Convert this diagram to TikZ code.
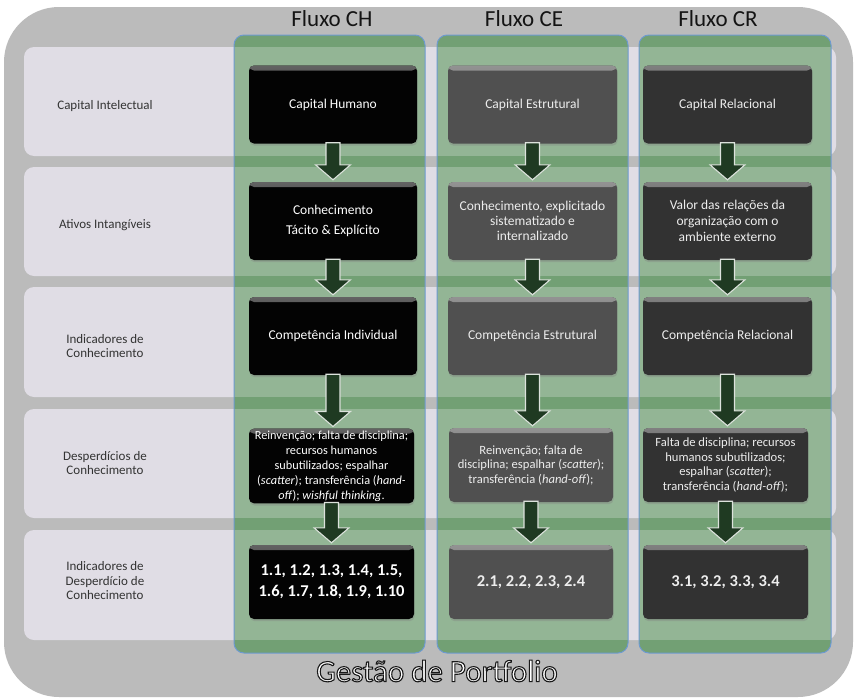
\documentclass[tikz,border=0pt]{standalone}
\usepackage{fontspec}
\setmainfont{Carlito}
\usetikzlibrary{calc,shadows}
\definecolor{outergray}{HTML}{BBBBBB}
\definecolor{rowlav}{HTML}{E0DDE5}
\definecolor{colgreen}{HTML}{93B595}
\definecolor{colgreendk}{HTML}{72A074}
\definecolor{colborder}{HTML}{6D9AD0}
\definecolor{arrowfill}{HTML}{1F3A22}
\definecolor{arrowline}{HTML}{DCE2DC}
\definecolor{boxCH}{HTML}{030303}
\definecolor{boxCE}{HTML}{505050}
\definecolor{boxCR}{HTML}{323232}
\definecolor{boxtextlt}{HTML}{EDEDED}
\definecolor{labeltext}{HTML}{333333}
\definecolor{headertext}{HTML}{141414}
\tikzset{
  boxbase/.style={rounded corners=5pt, inner sep=2pt, align=center,
    minimum width=168pt, minimum height=78pt,
    drop shadow={opacity=0.35, shadow xshift=0.6pt, shadow yshift=-2.2pt},
    font=\fontsize{13.5}{16}\selectfont},
  gloss/.style={fill=#1, path picture={\shade[top color=#1!62!white, bottom color=#1]
    (path picture bounding box.north west) rectangle ([yshift=-5pt]path picture bounding box.north east);}},
  chbox/.style={boxbase, gloss=boxCH, text=white},
  cebox/.style={boxbase, gloss=boxCE, text=boxtextlt},
  crbox/.style={boxbase, gloss=boxCR, text=boxtextlt},
  smallrow/.style={minimum height=74pt, minimum width=165pt},
  rowlabel/.style={align=center, text=labeltext, font=\fontsize{13}{14.5}\selectfont},
  header/.style={text=headertext, font=\fontsize{23}{26}\selectfont},
  flowarrow/.style={fill=arrowfill, draw=arrowline, line width=1.1pt, line join=miter},
  numtext/.style={font=\bfseries\fontsize{16.5}{21}\selectfont},
  wastetext/.style={font=\fontsize{12.3}{15}\selectfont},
}
\newcommand{\flowarrow}[2]{%
  \draw[flowarrow] let \p1=(#1.south), \p2=(#2.north) in
    (\x1-7pt,\y1+1pt) -- (\x1+7pt,\y1+1pt) -- (\x1+7pt,\y2+17pt) -- (\x1+17.5pt,\y2+17pt)
    -- (\x1,\y2+2pt) -- (\x1-17.5pt,\y2+17pt) -- (\x1-7pt,\y2+17pt) -- cycle;}
\newcommand{\greencol}[2]{%
  \fill[colgreen, rounded corners=10pt] (#1,35) rectangle (#2,653);
  \begin{scope}
    \clip[rounded corners=10pt] (#1,35) rectangle (#2,653);
    \fill[colgreendk] (#1,35) rectangle (#2,47);
    \fill[colgreendk] (#1,156) rectangle (#2,167);
    \fill[colgreendk] (#1,276) rectangle (#2,287);
    \fill[colgreendk] (#1,397) rectangle (#2,409);
    \fill[colgreendk] (#1,518) rectangle (#2,530);
    \fill[colgreendk] (#1,640) rectangle (#2,653);
  \end{scope}
  \draw[colborder, line width=1pt, rounded corners=10pt] (#1,35) rectangle (#2,653);}
\begin{document}
\begin{tikzpicture}[x=1pt,y=-1pt]
\useasboundingbox (0,0) rectangle (855,699);
% outer frame
\fill[outergray, rounded corners=55pt] (4,7) rectangle (853,697);
% row bands
\foreach \ya/\yb in {47/156,167/276,287/397,409/518,530/640}
  \fill[rowlav, rounded corners=10pt] (24,\ya) rectangle (836,\yb);
% green columns
\greencol{234}{425}
\greencol{437}{628}
\greencol{639}{831}
% headers
\node[header] (hCH) at (332,19) {Fluxo CH};
\node[header] (hCE) at (524,19) {Fluxo CE};
\node[header] (hCR) at (718,19) {Fluxo CR};
% row labels
\node[rowlabel] (l1) at (105,106) {Capital Intelectual};
\node[rowlabel] (l2) at (105,225) {Ativos Intangíveis};
\node[rowlabel] (l3) at (105,346) {Indicadores de\\Conhecimento};
\node[rowlabel] (l4) at (105,463) {Desperdícios de\\Conhecimento};
\node[rowlabel] (l5) at (105,581) {Indicadores de\\Desperdício de\\Conhecimento};
% CH column
\node[chbox] (a1) at (333,104.5) {Capital Humano};
\node[chbox, font=\fontsize{13.5}{20}\selectfont] (a2) at (333,221) {Conhecimento\\Tácito \& Explícito};
\node[chbox] (a3) at (333,336) {Competência Individual};
\node[chbox, smallrow, wastetext] (a4) at (331.5,466) {Reinvenção; falta de disciplina;\\recursos humanos\\subutilizados; espalhar\\(\textit{scatter}); transferência (\textit{hand-}\\\textit{off}); \textit{wishful thinking}.};
\node[chbox, smallrow, numtext] (a5) at (331.5,582) {1.1, 1.2, 1.3, 1.4, 1.5,\\1.6, 1.7, 1.8, 1.9, 1.10};
% CE column
\node[cebox, minimum width=169pt] (b1) at (532.5,104.5) {Capital Estrutural};
\node[cebox, minimum width=169pt, font=\fontsize{13.5}{14.8}\selectfont] (b2) at (532.5,221) {Conhecimento, explicitado\\sistematizado e\\internalizado};
\node[cebox, minimum width=169pt] (b3) at (532.5,336) {Competência Estrutural};
\node[cebox, smallrow, minimum width=164pt, wastetext, font=\fontsize{12.6}{14.5}\selectfont] (b4) at (531,465) {Reinvenção; falta de\\disciplina; espalhar (\textit{scatter});\\transferência (\textit{hand-off});};
\node[cebox, smallrow, minimum width=164pt, numtext] (b5) at (531,582) {2.1, 2.2, 2.3, 2.4};
% CR column
\node[crbox, minimum width=169pt] (c1) at (727.5,104.5) {Capital Relacional};
\node[crbox, minimum width=169pt, font=\fontsize{13.5}{16}\selectfont] (c2) at (727.5,221) {Valor das relações da\\organização com o\\ambiente externo};
\node[crbox, minimum width=169pt] (c3) at (727.5,336) {Competência Relacional};
\node[crbox, smallrow, wastetext, font=\fontsize{12.6}{14.7}\selectfont] (c4) at (725.5,465) {Falta de disciplina; recursos\\humanos subutilizados;\\espalhar (\textit{scatter});\\transferência (\textit{hand-off});};
\node[crbox, smallrow, numtext] (c5) at (725.5,582) {3.1, 3.2, 3.3, 3.4};
% arrows
\flowarrow{a1}{a2}\flowarrow{a2}{a3}\flowarrow{a3}{a4}\flowarrow{a4}{a5}
\flowarrow{b1}{b2}\flowarrow{b2}{b3}\flowarrow{b3}{b4}\flowarrow{b4}{b5}
\flowarrow{c1}{c2}\flowarrow{c2}{c3}\flowarrow{c3}{c4}\flowarrow{c4}{c5}
% bottom title (white letters with a dark outline)
\node[text=white, font=\fontsize{31}{34}\selectfont] (gp) at (437,671)
  {\special{pdf:literal direct 2 Tr 1.1 w 0.1 0.1 0.1 RG}Gestão de Portfolio\special{pdf:literal direct 0 Tr}};
\end{tikzpicture}
\end{document}
